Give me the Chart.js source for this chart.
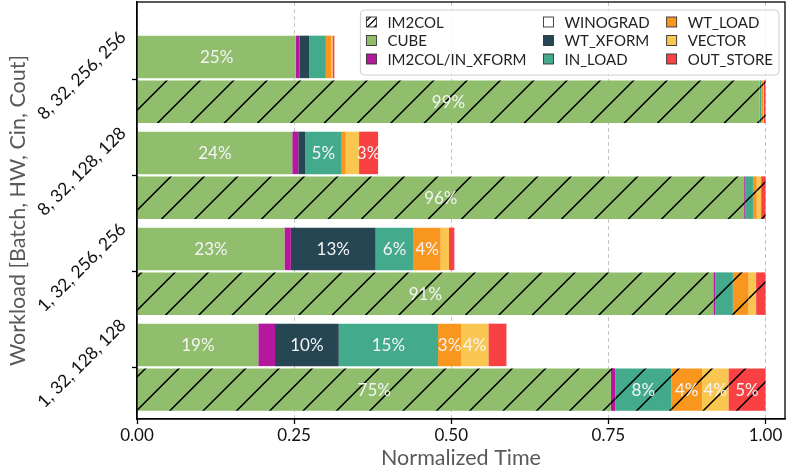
<!DOCTYPE html>
<html>
<head>
<meta charset="utf-8">
<script src="https://cdn.jsdelivr.net/npm/chart.js@4.4.0/dist/chart.umd.min.js"></script>
<style>
  html, body { margin: 0; padding: 0; background: #fff; }
  #c { display: block; }
</style>
</head>
<body>
<canvas id="c" width="789" height="467"></canvas>
<script>
// ---------------- DATA ----------------
const workloads = ['8, 32, 256, 256', '8, 32, 128, 128', '1, 32, 256, 256', '1, 32, 128, 128'];
const methods = ['WINOGRAD', 'IM2COL'];   // within each workload: upper bar, lower bar
const components = ['CUBE', 'IM2COL/IN_XFORM', 'WT_XFORM', 'IN_LOAD', 'WT_LOAD', 'VECTOR', 'OUT_STORE'];
// bar order: w0-WINOGRAD, w0-IM2COL, w1-WINOGRAD, w1-IM2COL, w2-WINOGRAD, w2-IM2COL, w3-WINOGRAD, w3-IM2COL
const CUBE            = [0.2527, 0.9905, 0.2470, 0.9660, 0.2346, 0.9170, 0.1930, 0.7540];
const IM2COL_IN_XFORM = [0.0057, 0.0000, 0.0096, 0.0015, 0.0102, 0.0030, 0.0266, 0.0070];
const WT_XFORM        = [0.0155, 0.0000, 0.0107, 0.0000, 0.1348, 0.0000, 0.1014, 0.0000];
const IN_LOAD         = [0.0266, 0.0030, 0.0584, 0.0125, 0.0605, 0.0280, 0.1580, 0.0890];
const WT_LOAD         = [0.0085, 0.0025, 0.0064, 0.0060, 0.0430, 0.0250, 0.0366, 0.0490];
const VECTOR          = [0.0020, 0.0010, 0.0212, 0.0070, 0.0133, 0.0120, 0.0435, 0.0420];
const OUT_STORE       = [0.0030, 0.0030, 0.0303, 0.0070, 0.0085, 0.0150, 0.0287, 0.0590];
const xTickValues = [0, 0.25, 0.5, 0.75, 1.0];
const legendColumns = [
  ['IM2COL', 'CUBE', 'IM2COL/IN_XFORM'],
  ['WINOGRAD', 'WT_XFORM', 'IN_LOAD'],
  ['WT_LOAD', 'VECTOR', 'OUT_STORE']
];

// ---------------- STYLE ----------------
const FONT = 'Lato, "DejaVu Sans", sans-serif';
const series = [CUBE, IM2COL_IN_XFORM, WT_XFORM, IN_LOAD, WT_LOAD, VECTOR, OUT_STORE];
const colors = {
  'CUBE': '#90be6d', 'IM2COL/IN_XFORM': '#b5179e', 'WT_XFORM': '#264653', 'IN_LOAD': '#43aa8b',
  'WT_LOAD': '#f8961e', 'VECTOR': '#f9c74f', 'OUT_STORE': '#f94144', 'WINOGRAD': '#ffffff', 'IM2COL': '#ffffff'
};
const PAIR_OFFSET = 0.233;
const LABEL_MIN = 0.03;
const barPos = i => Math.floor(i / 2) + (i % 2 === 0 ? -PAIR_OFFSET : PAIR_OFFSET);

function makeHatch(color) {
  const s = 100, step = s / 3;
  const c = document.createElement('canvas');
  c.width = s; c.height = s;
  const g = c.getContext('2d');
  g.fillStyle = color; g.fillRect(0, 0, s, s);
  g.strokeStyle = '#000'; g.lineWidth = 1.5;
  g.beginPath();
  for (let k = 0; k <= 6; k++) {
    const cc = k * step;
    g.moveTo(cc + 3, -3);
    g.lineTo(cc - s - 3, s + 3);
  }
  g.stroke();
  const p = document.getElementById('c').getContext('2d').createPattern(c, 'repeat');
  if (p.setTransform) p.setTransform(new DOMMatrix([1, 0, 0, 1, 14, 0]));
  return p;
}

Chart.defaults.font.family = FONT;

const datasets = components.map((name, k) => {
  const hatch = makeHatch(colors[name]);
  return {
    label: name,
    data: series[k].map((v, i) => ({ x: v, y: barPos(i) })),
    backgroundColor: series[k].map((v, i) => (methods[i % 2] === 'IM2COL' ? hatch : colors[name])),
    borderWidth: 0,
    barPercentage: 0.95,
    categoryPercentage: 1
  };
});

const valueLabels = {
  id: 'valueLabels',
  afterDatasetsDraw(chart) {
    const ctx = chart.ctx;
    const a = chart.chartArea;
    ctx.save();
    ctx.strokeStyle = '#000'; ctx.lineWidth = 1.3;
    ctx.strokeRect(a.left, a.top, a.right - a.left, a.bottom - a.top);
    ctx.restore();
    ctx.save();
    ctx.font = '17px ' + FONT;
    ctx.fillStyle = '#f4f4f4';
    ctx.textAlign = 'center';
    ctx.textBaseline = 'middle';
    chart.data.datasets.forEach((ds, k) => {
      const meta = chart.getDatasetMeta(k);
      meta.data.forEach((el, i) => {
        const v = ds.data[i].x;
        if (v >= LABEL_MIN) {
          const p = el.getProps(['x', 'y', 'base'], true);
          ctx.fillText(Math.floor(v * 100 + 1e-6) + '%', (p.x + p.base) / 2, p.y + 1);
        }
      });
    });
    ctx.restore();
  }
};

const gridLegend = {
  id: 'gridLegend',
  afterDraw(chart) {
    const ctx = chart.ctx;
    const a = chart.chartArea;
    ctx.save();
    ctx.font = '15px ' + FONT;
    const box = 10, gap = 11, colGap = 17, padX = 6, padTop = 12, rowH = 18.5, height = 65;
    const colW = legendColumns.map(col => box + gap + Math.max(...col.map(t => ctx.measureText(t).width)));
    const totalW = padX * 2 + colW.reduce((s, w) => s + w, 0) + colGap * (legendColumns.length - 1);
    const right = a.right - 6, top = a.top + 8, left = right - totalW;
    ctx.beginPath();
    ctx.roundRect(left, top, totalW, height, 4);
    ctx.fillStyle = 'rgba(255,255,255,0.8)';
    ctx.fill();
    ctx.strokeStyle = '#d0d0d0'; ctx.lineWidth = 1;
    ctx.stroke();
    let x = left + padX;
    legendColumns.forEach((col, ci) => {
      col.forEach((name, ri) => {
        const cy = top + padTop + ri * rowH;
        const bx = x, by = cy - box / 2;
        ctx.fillStyle = colors[name];
        ctx.fillRect(bx, by, box, box);
        if (name === 'IM2COL') {
          ctx.save();
          ctx.beginPath(); ctx.rect(bx, by, box, box); ctx.clip();
          ctx.strokeStyle = '#000'; ctx.lineWidth = 1.3;
          ctx.beginPath();
          for (let c = -14; c <= 14; c += 7) {
            ctx.moveTo(bx + c, by + box + 1);
            ctx.lineTo(bx + c + box + 2, by - 1);
          }
          ctx.stroke();
          ctx.restore();
        }
        ctx.strokeStyle = '#333'; ctx.lineWidth = 0.9;
        ctx.strokeRect(bx, by, box, box);
        ctx.fillStyle = '#222';
        ctx.textAlign = 'left'; ctx.textBaseline = 'middle';
        ctx.fillText(name, bx + box + gap, cy + 1);
      });
      x += colW[ci] + colGap;
    });
    ctx.restore();
  }
};

new Chart(document.getElementById('c'), {
  type: 'bar',
  data: { datasets },
  options: {
    indexAxis: 'y',
    responsive: false,
    animation: false,
    layout: { padding: { top: 2, right: 4, left: 0, bottom: 0 } },
    plugins: { legend: { display: false }, tooltip: { enabled: false } },
    scales: {
      x: {
        type: 'linear', position: 'bottom', stacked: true, min: 0, max: 1.031, offset: false,
        afterBuildTicks: s => { s.ticks = xTickValues.map(v => ({ value: v })); },
        ticks: { callback: v => Number(v).toFixed(2), color: '#111', font: { size: 17 }, padding: 1, maxRotation: 0, autoSkip: false },
        grid: { color: '#c4c4c4', lineWidth: 1, tickLength: 5, tickColor: '#000', tickWidth: 1.3, offset: false },
        border: { display: true, color: '#000', width: 1.3, dash: [4, 3] },
        title: { display: true, text: 'Normalized Time', color: '#595959', font: { size: 21.5, lineHeight: 0.8 }, padding: 0 },
        afterFit: s => { s.height = 48; s.paddingLeft = 0; s.paddingRight = 0; }
      },
      y: {
        type: 'linear', stacked: true, reverse: true, min: -0.805, max: 3.539, offset: false,
        afterBuildTicks: s => { s.ticks = workloads.map((w, i) => ({ value: i })); },
        ticks: { callback: v => workloads[v], autoSkip: false, minRotation: 45, maxRotation: 45, labelOffset: -45, padding: 9, color: '#111', font: { size: 17.5 } },
        grid: { drawOnChartArea: false, tickLength: 5, tickColor: '#000', tickWidth: 1.3, offset: false },
        border: { display: true, color: '#000', width: 1.3 },
        title: { display: true, text: 'Workload [Batch, HW, Cin, Cout]', color: '#595959', font: { size: 21.5, lineHeight: 1.2 }, padding: { top: 5, bottom: 0 } },
        afterFit: s => { s.width = 137; s.paddingTop = 0; s.paddingBottom = 0; }
      }
    }
  },
  plugins: [valueLabels, gridLegend]
});
</script>
</body>
</html>
